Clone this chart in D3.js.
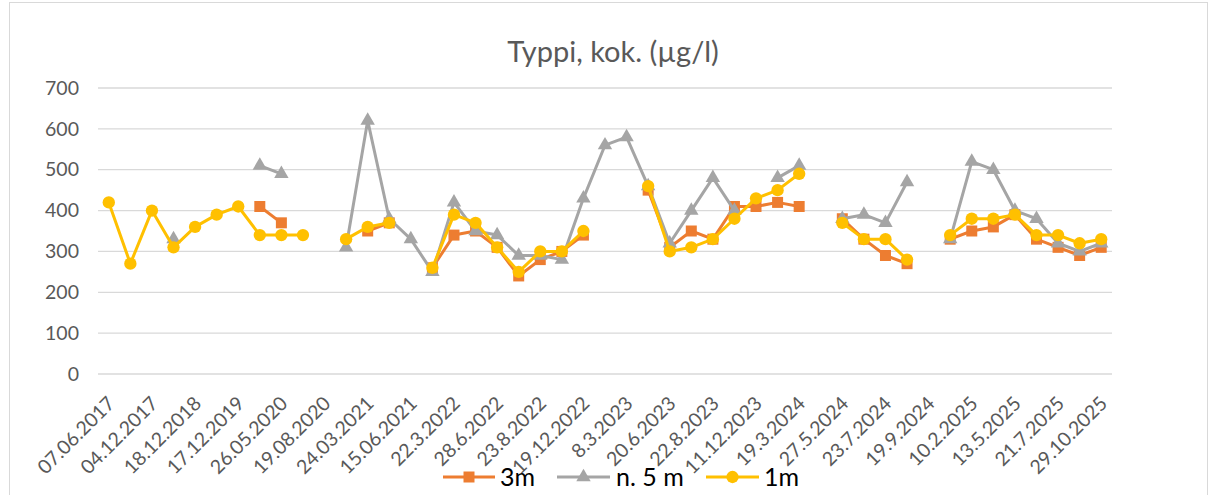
<!DOCTYPE html>
<html>
<head>
<meta charset="utf-8">
<script src="https://cdn.jsdelivr.net/npm/d3@7"></script>
<style>
  html, body { margin: 0; padding: 0; background: #fff; }
  svg { display: block; font-family: Lato, "Open Sans", sans-serif; }
</style>
</head>
<body>
<svg id="chart" width="1213" height="495"></svg>
<script>
// ---- data ----
const title = "Typpi, kok. (µg/l)";
const tickLabels = ["07.06.2017","04.12.2017","18.12.2018","17.12.2019","26.05.2020","19.08.2020",
  "24.03.2021","15.06.2021","22.3.2022","28.6.2022","23.8.2022","19.12.2022","8.3.2023","20.6.2023",
  "22.8.2023","11.12.2023","19.3.2024","27.5.2024","23.7.2024","19.9.2024","10.2.2025","13.5.2025",
  "21.7.2025","29.10.2025"];
const yTicks = [0,100,200,300,400,500,600,700];
const seriesNames = ["3m", "n. 5 m", "1m"];
const s3m = [null,null,null,null,null,null,null,410,370,null,
  null,null,350,370,null,260,340,350,310,240,
  280,300,340,null,null,450,310,350,330,410,
  410,420,410,null,380,330,290,270,null,330,
  350,360,390,330,310,290,310];
const s5m = [null,null,null,330,null,null,null,510,490,null,
  null,310,620,380,330,250,420,350,340,290,
  290,280,430,560,580,460,320,400,480,400,
  null,480,510,null,380,390,370,470,null,330,
  520,500,400,380,320,300,320];
const s1m = [420,270,400,310,360,390,410,340,340,340,
  null,330,360,370,null,260,390,370,310,250,
  300,300,350,null,null,460,300,310,330,380,
  430,450,490,null,370,330,330,280,null,340,
  380,380,390,340,340,320,330];
const colors = ["#ED7D31", "#A5A5A5", "#FFC000"];
const symbols = [d3.symbolSquare, d3.symbolTriangle, d3.symbolCircle];
const symbolSizes = [121, 90, 120];

// ---- chart ----
const svg = d3.select("#chart");
const textColor = "#595959";
const series = [s3m, s5m, s1m];
const n = s1m.length;

svg.append("rect").attr("x", 9.5).attr("y", 2.5).attr("width", 1198).attr("height", 500)
  .attr("fill", "none").attr("stroke", "#d9d9d9").attr("stroke-width", 1);

svg.append("text").attr("x", 613).attr("y", 62).attr("text-anchor", "middle")
  .attr("font-size", 29).attr("fill", textColor).text(title);

const x = d3.scalePoint().domain(d3.range(n)).range([98, 1112]).padding(0.5);
const y = d3.scaleLinear().domain([0, 700]).range([374, 88]);

// gridlines
svg.append("g").selectAll("line").data(yTicks).join("line")
  .attr("x1", 98).attr("x2", 1112)
  .attr("y1", d => y(d)).attr("y2", d => y(d))
  .attr("stroke", "#d9d9d9").attr("stroke-width", 1.3);

// y axis
const yAxis = svg.append("g").attr("transform", "translate(79,0)")
  .call(d3.axisLeft(y).tickValues(yTicks).tickSize(0).tickPadding(0));
yAxis.select(".domain").remove();
yAxis.selectAll("text").attr("font-size", 19.5).attr("fill", textColor).attr("font-family", "Lato");

// x axis labels
const xTickIdx = tickLabels.map((_, i) => i * 2);
const xAxis = svg.append("g").attr("transform", "translate(0,374)")
  .call(d3.axisBottom(x).tickValues(xTickIdx).tickFormat(i => tickLabels[i / 2]).tickSize(0));
xAxis.select(".domain").remove();
xAxis.selectAll("text")
  .attr("font-size", 19.5).attr("fill", textColor).attr("font-family", "Lato")
  .attr("text-anchor", "end")
  .attr("transform", "translate(2,26) rotate(-45)")
  .attr("dy", "0.35em").attr("y", 0).attr("x", 0);

// series
const line = d3.line().defined(d => d.v != null).x(d => x(d.i)).y(d => y(d.v));
series.forEach((s, k) => {
  const pts = s.map((v, i) => ({ i, v }));
  const g = svg.append("g");
  g.append("path").datum(pts).attr("d", line)
    .attr("fill", "none").attr("stroke", colors[k]).attr("stroke-width", 3)
    .attr("stroke-linejoin", "round");
  g.selectAll("path.m").data(pts.filter(d => d.v != null)).join("path").attr("class", "m")
    .attr("transform", d => `translate(${x(d.i)},${y(d.v)})`)
    .attr("d", d3.symbol().type(symbols[k]).size(symbolSizes[k]))
    .attr("fill", colors[k]);
});

// legend
const legendItems = [
  { x1: 443, x2: 495, tx: 500 },
  { x1: 557, x2: 610, tx: 616 },
  { x1: 706, x2: 759, tx: 764 }
];
const ly = 477;
legendItems.forEach((it, k) => {
  const g = svg.append("g");
  g.append("line").attr("x1", it.x1).attr("x2", it.x2).attr("y1", ly).attr("y2", ly)
    .attr("stroke", colors[k]).attr("stroke-width", 3);
  g.append("path").attr("transform", `translate(${(it.x1 + it.x2) / 2},${ly})`)
    .attr("d", d3.symbol().type(symbols[k]).size(symbolSizes[k])).attr("fill", colors[k]);
  g.append("text").attr("x", it.tx).attr("y", ly).attr("dy", "0.35em")
    .attr("font-size", 25).attr("fill", "#000").text(seriesNames[k]);
});
</script>
</body>
</html>
